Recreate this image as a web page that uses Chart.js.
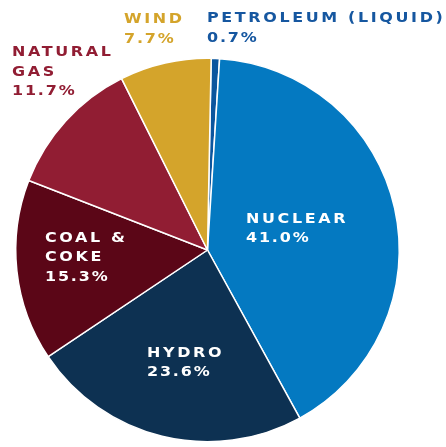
<!DOCTYPE html>
<html>
<head>
<meta charset="utf-8">
<script src="https://cdn.jsdelivr.net/npm/chart.js@4.4.0/dist/chart.umd.min.js"></script>
<style>
  html, body { margin: 0; padding: 0; background: #fff; }
  #wrap { width: 446px; height: 447px; }
</style>
</head>
<body>
<div id="wrap"><canvas id="mixChart" width="446" height="447"></canvas></div>
<script>
const categories = ['Petroleum (Liquid)', 'Nuclear', 'Hydro', 'Coal & Coke', 'Natural Gas', 'Wind'];
const shares = [0.7, 41.0, 23.6, 15.3, 11.7, 7.7];
const labelLines = [['PETROLEUM (LIQUID)'], ['NUCLEAR'], ['HYDRO'], ['COAL &', 'COKE'], ['NATURAL', 'GAS'], ['WIND']];

const sliceColors = ['#0b569e', '#0479c1', '#0d3152', '#5b0617', '#911d33', '#d4a42b'];
const textColors = ['#1657a0', '#ffffff', '#ffffff', '#ffffff', '#911d33', '#d4a42b'];
// left x, baseline of first line
const labelSpots = [[207, 22], [246, 222.5], [147, 356.5], [45, 241.5], [12, 56], [124, 23]];
const lineGap = 19.5;
const stretch = 1.14; // wide caps like the original typeface

const sliceLabels = {
    id: 'sliceLabels',
    afterDatasetsDraw(chart) {
        const ctx = chart.ctx;
        ctx.save();
        ctx.textBaseline = 'alphabetic';
        ctx.textAlign = 'left';
        shares.forEach(function (v, i) {
            const lines = labelLines[i].concat([v.toFixed(1) + '%']);
            ctx.fillStyle = textColors[i];
            lines.forEach(function (t, j) {
                const isPct = j === lines.length - 1;
                ctx.save();
                ctx.translate(labelSpots[i][0], labelSpots[i][1] + j * lineGap);
                ctx.scale(stretch, 1);
                ctx.font = 'bold 14px "DejaVu Sans", sans-serif';
                ctx.letterSpacing = isPct ? '1.6px' : '2.3px';
                ctx.fillText(t, 0, 0);
                ctx.restore();
            });
        });
        ctx.restore();
    }
};

new Chart(document.getElementById('mixChart').getContext('2d'), {
    type: 'pie',
    data: {
        labels: categories,
        datasets: [{
            data: shares,
            backgroundColor: sliceColors,
            borderColor: '#ffffff',
            borderWidth: 1.5
        }]
    },
    options: {
        responsive: false,
        animation: false,
        rotation: 1.1,
        layout: { padding: { top: 57, bottom: 4, left: 15, right: 46 } },
        plugins: {
            legend: { display: false },
            tooltip: { enabled: false }
        }
    },
    plugins: [sliceLabels]
});
</script>
</body>
</html>
